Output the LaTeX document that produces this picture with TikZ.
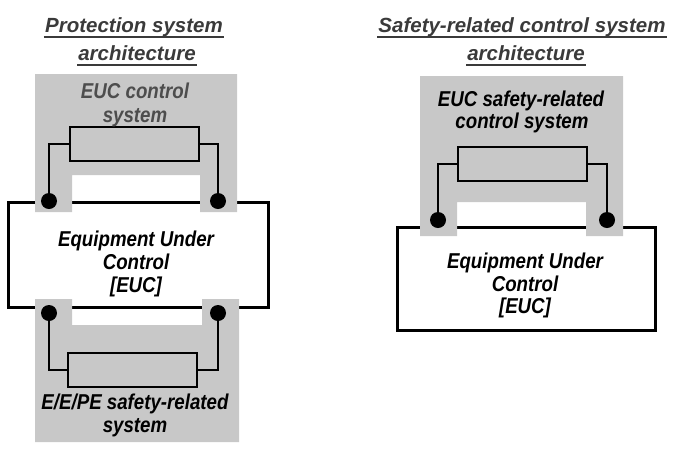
\documentclass[tikz,border=0pt]{standalone}
\usepackage{fontspec}
\setmainfont{Liberation Sans}
\newfontfamily\bodyf[FakeStretch=0.87]{Liberation Sans}
\definecolor{bg}{HTML}{C8C8C8}
\definecolor{ttl}{HTML}{3A3A3A}
\definecolor{gtxt}{HTML}{4D4D4D}
\begin{document}
\begin{tikzpicture}[x=1pt,y=-1pt,
  eucbox/.style={draw=black,fill=white,line width=3pt,inner sep=0pt},
  unit/.style={draw=black,fill=bg,line width=2.6pt,inner sep=0pt,minimum width=129pt,minimum height=34pt},
  dot/.style={circle,fill=black,inner sep=0pt,minimum size=16pt},
  wire/.style={draw=black,line width=2pt},
  ttltxt/.style={anchor=base,inner sep=0pt,text=ttl,font=\fontsize{20.5}{24}\selectfont\bfseries\itshape},
  ul/.style={draw=ttl,line width=2pt},
  bodytxt/.style={anchor=base,inner sep=0pt,text=black,font=\bodyf\fontsize{21.5}{23}\selectfont\bfseries\itshape},
  graytxt/.style={bodytxt,text=gtxt}
]
\useasboundingbox (0,0) rectangle (688,459);

% Equipment Under Control boxes
\node[eucbox,minimum width=260pt,minimum height=105pt] (euc1) at (138,254.5) {};
\node[eucbox,minimum width=258pt,minimum height=103pt] (euc2) at (526,278.5) {};

% grey system areas
\fill[bg] (35,74) -- (237,74) -- (237,212) -- (200,212) -- (200,175) -- (72,175) -- (72,212) -- (35,212) -- cycle;
\fill[bg] (35,299) -- (72,299) -- (72,325) -- (202,325) -- (202,299) -- (239,299) -- (239,442) -- (35,442) -- cycle;
\fill[bg] (420,76) -- (623,76) -- (623,236) -- (586,236) -- (586,202) -- (457,202) -- (457,236) -- (420,236) -- cycle;

% units
\node[unit] (u1) at (134.5,144) {};
\node[unit] (u2) at (132.5,370) {};
\node[unit] (u3) at (522.5,164) {};

% terminals
\node[dot] (d1) at (49,201) {};
\node[dot] (d2) at (218,201) {};
\node[dot] (d3) at (49,313) {};
\node[dot] (d4) at (218,313) {};
\node[dot] (d5) at (438,220) {};
\node[dot] (d6) at (607,220) {};

% wires
\draw[wire] (u1.west) -| (d1.center);
\draw[wire] (u1.east) -| (d2.center);
\draw[wire] (u2.west) -| (d3.center);
\draw[wire] (u2.east) -| (d4.center);
\draw[wire] (u3.west) -| (d5.center);
\draw[wire] (u3.east) -| (d6.center);

% titles
\node[ttltxt] (t1) at (134,32) {Protection system};
\node[ttltxt] (t2) at (137,60) {architecture};
\node[ttltxt] (t3) at (522,32) {Safety-related control system};
\node[ttltxt] (t4) at (526,60) {architecture};
\foreach \n in {t1,t2,t3,t4}{
  \draw[ul] ([yshift=-4.5pt,xshift=-1pt]\n.base west) -- ([yshift=-4.5pt,xshift=1pt]\n.base east);
}

% labels
\node[graytxt] (g1) at (135,98) {EUC control};
\node[graytxt] (g2) at (135,122) {system};
\node[bodytxt] (e1) at (136,246) {Equipment Under};
\node[bodytxt] (e2) at (136,269) {Control};
\node[bodytxt] (e3) at (136,292) {[EUC]};
\node[bodytxt] (s1) at (135,409) {E/E/PE safety-related};
\node[bodytxt] (s2) at (135,432) {system};
\node[bodytxt] (r1) at (521,106) {EUC safety-related};
\node[bodytxt] (r2) at (522,128) {control system};
\node[bodytxt] (q1) at (525,268) {Equipment Under};
\node[bodytxt] (q2) at (525,291) {Control};
\node[bodytxt] (q3) at (525,313) {[EUC]};
\end{tikzpicture}
\end{document}
